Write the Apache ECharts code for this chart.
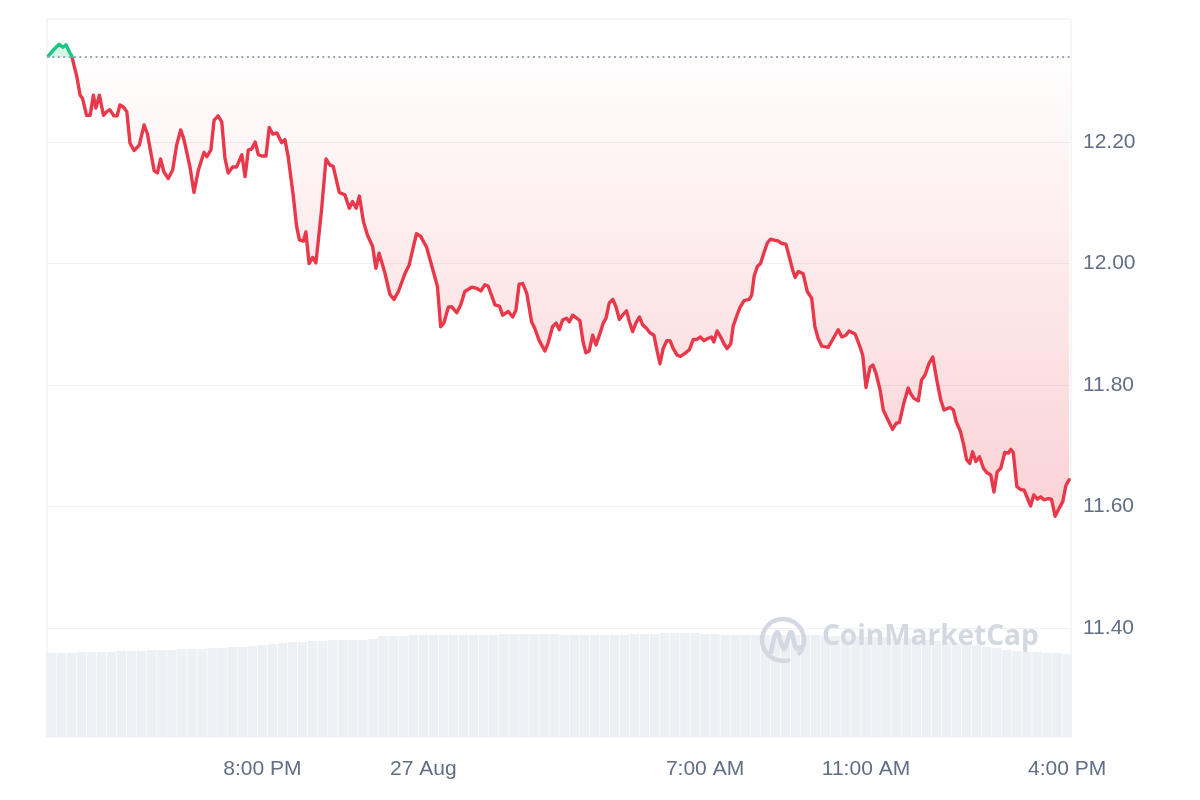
<!DOCTYPE html>
<html>
<head>
<meta charset="utf-8">
<script src="https://cdn.jsdelivr.net/npm/echarts@6/dist/echarts.min.js"></script>
<style>
html,body{margin:0;padding:0;background:#fff;}
#chart{width:1200px;height:800px;}
</style>
</head>
<body>
<div id="chart"></div>
<script>
// time in hours from 26 Aug 00:00
const times = [14.68,14.80,14.95,15.04,15.12,15.22,15.26,15.39,15.47,15.53,15.63,15.72,15.80,15.86,15.95,16.05,16.13,16.21,16.31,16.39,16.46,16.54,16.63,16.71,16.81,16.94,17.06,17.14,17.31,17.39,17.47,17.55,17.66,17.77,17.87,17.97,18.05,18.20,18.30,18.41,18.55,18.62,18.72,18.80,18.90,18.99,19.07,19.15,19.26,19.36,19.49,19.57,19.65,19.73,19.82,19.90,19.98,20.09,20.17,20.26,20.36,20.48,20.56,20.64,20.77,20.85,20.92,21.02,21.08,21.16,21.25,21.33,21.47,21.58,21.68,21.76,21.91,22.05,22.16,22.24,22.33,22.41,22.51,22.61,22.74,22.82,22.90,23.05,23.17,23.27,23.38,23.54,23.65,23.75,23.83,23.93,24.08,24.26,24.35,24.43,24.51,24.62,24.70,24.83,24.93,25.03,25.20,25.33,25.43,25.53,25.61,25.78,25.89,25.97,26.11,26.22,26.30,26.38,26.47,26.57,26.69,26.77,26.88,27.02,27.10,27.21,27.30,27.38,27.46,27.56,27.63,27.71,27.81,27.89,27.97,28.04,28.12,28.21,28.29,28.39,28.47,28.54,28.62,28.71,28.79,28.87,28.95,29.05,29.12,29.20,29.28,29.37,29.45,29.55,29.63,29.73,29.81,29.88,29.96,30.05,30.13,30.21,30.31,30.39,30.50,30.61,30.71,30.79,30.89,30.97,31.08,31.16,31.22,31.30,31.39,31.47,31.55,31.64,31.70,31.79,31.87,31.97,32.10,32.16,32.22,32.30,32.38,32.47,32.55,32.63,32.74,32.82,32.91,33.01,33.09,33.18,33.24,33.32,33.44,33.54,33.65,33.73,33.81,33.90,34.06,34.19,34.31,34.40,34.50,34.58,34.73,34.85,34.92,35.00,35.10,35.17,35.25,35.35,35.43,35.53,35.66,35.75,35.83,35.94,36.05,36.11,36.19,36.30,36.38,36.47,36.57,36.66,36.76,36.86,36.94,37.09,37.17,37.24,37.35,37.43,37.50,37.58,37.65,37.73,37.82,37.92,38.00,38.10,38.18,38.26,38.35,38.45,38.54,38.60,38.66,38.75,38.84,38.93,39.01,39.09,39.17,39.26,39.34,39.42,39.53,39.61,39.70,39.80,39.89,39.97,40.05];

const prices = [12.342,12.351,12.361,12.356,12.360,12.346,12.342,12.307,12.277,12.272,12.244,12.244,12.277,12.256,12.277,12.244,12.250,12.253,12.243,12.243,12.261,12.258,12.250,12.198,12.186,12.195,12.228,12.214,12.153,12.149,12.172,12.151,12.140,12.154,12.195,12.220,12.204,12.159,12.117,12.154,12.183,12.176,12.187,12.236,12.243,12.233,12.173,12.149,12.159,12.159,12.179,12.143,12.187,12.188,12.200,12.179,12.177,12.177,12.224,12.213,12.215,12.199,12.204,12.176,12.110,12.061,12.039,12.037,12.052,12.000,12.010,12.001,12.088,12.172,12.162,12.160,12.117,12.113,12.091,12.102,12.091,12.111,12.069,12.047,12.028,11.992,12.017,11.983,11.949,11.941,11.954,11.983,11.998,12.027,12.049,12.045,12.027,11.984,11.962,11.896,11.902,11.928,11.929,11.919,11.932,11.954,11.961,11.959,11.955,11.965,11.963,11.932,11.930,11.915,11.921,11.912,11.923,11.966,11.967,11.951,11.904,11.893,11.873,11.856,11.869,11.896,11.902,11.891,11.907,11.910,11.904,11.915,11.910,11.906,11.871,11.853,11.856,11.882,11.866,11.885,11.902,11.910,11.935,11.941,11.928,11.908,11.915,11.922,11.904,11.888,11.902,11.912,11.899,11.893,11.886,11.882,11.856,11.835,11.860,11.873,11.873,11.860,11.849,11.847,11.852,11.858,11.875,11.875,11.879,11.873,11.877,11.879,11.871,11.889,11.879,11.868,11.860,11.868,11.897,11.914,11.928,11.939,11.941,11.948,11.979,11.995,12.000,12.019,12.034,12.040,12.038,12.037,12.033,12.032,12.012,11.989,11.977,11.987,11.983,11.954,11.943,11.896,11.877,11.864,11.862,11.877,11.891,11.879,11.882,11.889,11.884,11.863,11.849,11.796,11.829,11.833,11.819,11.792,11.759,11.745,11.727,11.737,11.738,11.770,11.795,11.786,11.778,11.774,11.808,11.817,11.836,11.846,11.808,11.775,11.759,11.763,11.759,11.740,11.723,11.701,11.677,11.671,11.690,11.674,11.682,11.663,11.656,11.652,11.624,11.657,11.663,11.689,11.688,11.694,11.689,11.633,11.628,11.627,11.614,11.601,11.619,11.612,11.616,11.611,11.613,11.612,11.584,11.597,11.608,11.635,11.644];

const openPrice = 12.339;

// relative 24h volume, one bar every 15 minutes starting 14:45
const volStart = 14.75;
const volStep = 0.25;
const volumes = [84,84,84,85,85,85,85,86,86,86,87,87,87,88,88,88,89,89,90,90,91,92,93,94,95,95,96,96,97,97,97,97,98,101,101,101,102,102,102,102,102,102,102,102,102,103,103,103,103,103,103,102,102,102,102,102,102,102,103,103,103,104,104,104,104,103,103,102,102,102,102,102,102,102,102,102,102,101,101,101,101,100,100,100,99,99,98,97,96,95,94,93,92,90,89,87,86,85,85,84,84,83];

const xTickValues = [20, 24, 31, 35, 40];
const xTickLabels = ['8:00 PM', '27 Aug', '7:00 AM', '11:00 AM', '4:00 PM'];
const yTickValues = [11.4, 11.6, 11.8, 12.0, 12.2];

const RED = '#e8384a';
const GREEN = '#16c784';
const labelColor = '#616e85';
const gridColor = '#eff1f4';

const priceData = times.map((t, i) => [t, prices[i]]);
const greenData = priceData.slice(0, 7);
const volData = volumes.map((v, i) => [volStart + volStep * i, v]);

const xMin = 14.647, xMax = 40.095;

const chart = echarts.init(document.getElementById('chart'), null, {renderer: 'canvas'});
chart.setOption({
  animation: false,
  backgroundColor: '#ffffff',
  grid: [
    {left: 47, right: 129, top: 19, bottom: 63, show: true, borderColor: '#eaedf1', borderWidth: 1, backgroundColor: 'transparent'},
    {left: 47, right: 129, top: 537, bottom: 63}
  ],
  xAxis: [
    {
      type: 'value', gridIndex: 0, min: xMin, max: xMax,
      axisLine: {show: false}, axisTick: {show: false}, splitLine: {show: false},
      axisLabel: {
        customValues: xTickValues,
        formatter: function (v) {
          for (let i = 0; i < xTickValues.length; i++) {
            if (Math.abs(xTickValues[i] - v) < 1e-6) return xTickLabels[i];
          }
          return '';
        },
        color: labelColor, fontSize: 21, fontFamily: 'Liberation Sans, Arial, sans-serif', margin: 22
      }
    },
    {type: 'value', gridIndex: 1, min: xMin, max: xMax, show: false}
  ],
  yAxis: [
    {
      type: 'value', gridIndex: 0, position: 'right', min: 11.2206, max: 12.4025, scale: true,
      axisLine: {show: false},
      axisTick: {show: false, customValues: yTickValues},
      splitLine: {show: true, lineStyle: {color: gridColor, width: 1}},
      axisLabel: {
        customValues: yTickValues,
        formatter: v => v.toFixed(2),
        color: labelColor, fontSize: 21, fontFamily: 'Liberation Sans, Arial, sans-serif', margin: 12
      }
    },
    {type: 'value', gridIndex: 1, min: 0, max: 200, show: false}
  ],
  visualMap: {
    type: 'piecewise', show: false, seriesIndex: 2, dimension: 1,
    pieces: [
      {gt: openPrice, lte: 20, color: GREEN},
      {gte: 0, lte: openPrice, color: RED}
    ]
  },
  graphic: [
    {
      type: 'arc', z: 5, silent: true,
      shape: {cx: 783, cy: 640, r: 21, startAngle: Math.PI * 0.42, endAngle: Math.PI * 2.22},
      style: {stroke: '#d3d8e1', lineWidth: 4.5, fill: null, lineCap: 'round'}
    },
    {
      type: 'polyline', z: 5, silent: true,
      shape: {points: [[771, 652], [777, 632], [784, 649], [791, 632], [796, 648], [801, 647]], smooth: 0.35},
      style: {stroke: '#d3d8e1', lineWidth: 4.5, fill: null, lineCap: 'round', lineJoin: 'round'}
    },
    {
      type: 'text', z: 5, silent: true, left: 822, top: 623,
      style: {text: 'CoinMarketCap', fill: '#d3d8e1', font: '700 28px "Open Sans", "Liberation Sans", sans-serif'}
    }
  ],
  series: [
    {
      type: 'bar', xAxisIndex: 1, yAxisIndex: 1, data: volData,
      barWidth: 9.4, itemStyle: {color: '#edf0f4'}, silent: true, z: 1
    },
    {
      type: 'line', xAxisIndex: 0, yAxisIndex: 0, data: greenData,
      showSymbol: false, symbol: 'none', silent: true, z: 2,
      lineStyle: {width: 0, opacity: 0},
      areaStyle: {origin: openPrice, color: 'rgba(22,199,132,0.25)'}
    },
    {
      type: 'line', xAxisIndex: 0, yAxisIndex: 0, data: priceData,
      showSymbol: false, symbol: 'none', silent: true, z: 3,
      lineStyle: {width: 3.4, join: 'round', cap: 'round'},
      areaStyle: {
        origin: openPrice,
        color: new echarts.graphic.LinearGradient(0, 0, 0, 1, [
          {offset: 0, color: 'rgba(234,57,67,0.0)'},
          {offset: 1, color: 'rgba(234,57,67,0.32)'}
        ])
      },
      markLine: {
        silent: true, symbol: 'none', label: {show: false},
        lineStyle: {color: '#9ea4b3', width: 1.8, type: [2, 3.4]},
        data: [{yAxis: openPrice}]
      }
    }
  ]
});
</script>
</body>
</html>
